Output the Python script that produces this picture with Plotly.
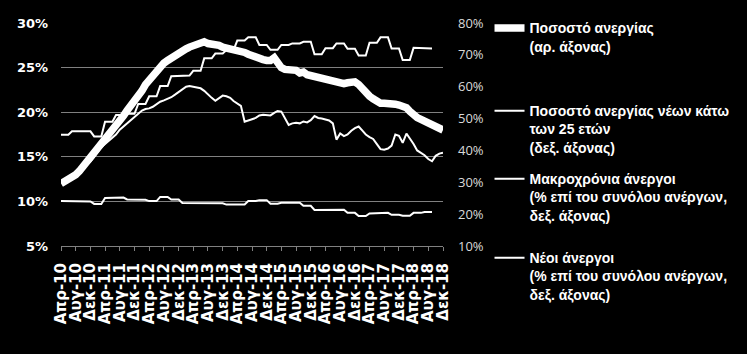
import numpy as np
import pandas as pd
import plotly.graph_objects as go

# Monthly dates Apr-2010 .. Dec-2018
months = pd.date_range("2010-04-01", "2018-12-01", freq="MS")

# Unemployment rate (left axis, %), monthly
unemp = [12.0, 12.2, 12.4, 12.7, 13.0, 13.4, 13.9, 14.4, 14.9, 15.3, 15.8, 16.4,
         16.9, 17.4, 17.8, 18.4, 19.1, 19.6, 20.2, 20.7, 21.1, 21.6, 22.4, 23.1,
         23.6, 24.2, 24.7, 25.1, 25.5, 25.8, 26.1, 26.4, 26.6, 26.9, 27.1, 27.3,
         27.5, 27.6, 27.9, 27.9, 27.7, 27.7, 27.6, 27.5, 27.3, 27.2, 27.2, 27.1,
         27.1, 26.9, 26.7, 26.5, 26.3, 26.2, 26.0, 25.9, 25.8, 25.8, 26.1, 25.5,
         25.0, 24.8, 24.8, 24.6, 24.7, 24.4, 24.5, 24.2, 24.1, 24.0, 23.8, 23.7,
         23.5, 23.5, 23.4, 23.3, 23.2, 23.2, 23.3, 23.4, 23.4, 23.1, 22.6, 22.2,
         21.8, 21.5, 21.2, 21.0, 21.0, 21.0, 21.1, 20.9, 20.8, 20.7, 20.5, 20.1,
         19.6, 19.4, 19.2, 19.0, 18.9, 18.7, 18.6, 18.3, 18.0]

# Youth (<25) unemployment rate (right axis, %), monthly
youth = [30.0, 30.5, 31.0, 31.8, 32.5, 33.5, 34.5, 35.5, 36.5, 38.0, 39.5, 41.0,
         42.0, 43.0, 44.0, 45.0, 46.5, 47.5, 48.5, 49.5, 50.5, 51.5, 52.5, 53.0,
         53.2, 53.7, 54.5, 55.3, 55.7, 56.2, 56.7, 57.5, 58.4, 59.3, 60.0, 60.2,
         60.0, 59.9, 59.5, 58.7, 57.5, 56.5, 55.6, 56.3, 57.2, 57.0, 56.5, 55.5,
         54.6, 54.0, 49.0, 49.5, 49.8, 50.2, 51.0, 51.2, 51.1, 51.0, 51.8, 52.4,
         52.2, 50.0, 48.0, 48.5, 48.7, 48.5, 49.1, 48.8, 49.5, 50.8, 50.2, 50.0,
         49.8, 49.4, 48.5, 43.4, 45.3, 44.5, 45.0, 46.2, 47.0, 47.5, 46.2, 45.0,
         44.2, 43.6, 42.0, 40.4, 40.2, 40.6, 41.5, 45.0, 44.6, 42.4, 45.3, 43.8,
         42.0, 40.0, 39.2, 38.5, 37.3, 36.6, 38.3, 39.0, 39.3]

# Quarterly series Q2-2010 .. Q3-2018 (right axis, % of total unemployed)
long_term_q = [44.9, 46.0, 46.0, 44.4, 49.0, 51.1, 51.5, 54.6, 57.0, 60.2, 63.3, 63.5,
               65.0, 68.9, 70.4, 71.5, 74.5, 75.5, 73.1, 71.6, 73.1, 73.6, 74.1, 70.2,
               72.1, 73.6, 71.9, 69.8, 73.8, 75.5, 72.0, 68.4, 72.2, 72.0]
new_unemp_q = [24.1, 24.1, 24.0, 23.2, 25.1, 25.2, 24.6, 24.5, 24.1, 25.4, 24.6, 23.5,
               23.5, 23.5, 23.4, 23.0, 23.0, 24.1, 24.4, 23.3, 23.6, 23.6, 22.6, 21.3,
               21.3, 21.4, 20.4, 19.4, 20.2, 20.4, 19.8, 19.5, 20.4, 20.7]

# each quarterly value shown for the three months of its quarter
q_months = months[:3 * len(long_term_q)]
long_term = np.repeat(long_term_q, 3)
new_unemp = np.repeat(new_unemp_q, 3)

# tick labels every 4 months
tick_dates = months[::4]
gr_month = {4: "Απρ", 8: "Αυγ", 12: "Δεκ"}
tick_text = [f"{gr_month[d.month]}-{d.strftime('%y')}" for d in tick_dates]

names = ["<b>Ποσοστό ανεργίας<br>(αρ. άξονας)</b>",
         "<b>Ποσοστό ανεργίας νέων κάτω<br>των 25 ετών<br>(δεξ. άξονας)</b>",
         "<b>Μακροχρόνια άνεργοι<br>(% επί του συνόλου ανέργων,<br>δεξ. άξονας)</b>",
         "<b>Νέοι άνεργοι<br>(% επί του συνόλου ανέργων,<br>δεξ. άξονας)</b>"]

fig = go.Figure()
fig.add_trace(go.Scatter(x=months, y=youth, name=names[1], yaxis="y2", mode="lines",
                         line=dict(color="white", width=2), legend="legend2"))
fig.add_trace(go.Scatter(x=q_months, y=long_term, name=names[2], yaxis="y2", mode="lines",
                         line=dict(color="white", width=2), legend="legend3"))
fig.add_trace(go.Scatter(x=q_months, y=new_unemp, name=names[3], yaxis="y2", mode="lines",
                         line=dict(color="white", width=2), legend="legend4"))
fig.add_trace(go.Scatter(x=months, y=unemp, name=names[0], mode="lines",
                         line=dict(color="white", width=7.5), legend="legend"))

W, H = 747, 354
L, R, T, B = 61, 447, 17, 246
leg_font = dict(family="Liberation Sans, Arial, sans-serif", size=14, color="white",
                weight="bold")

def px_x(p):
    return (p - L) / (R - L)

def px_y(p):
    return (B - p) / (B - T)

def leg(top):
    return dict(x=px_x(494), y=px_y(top), xanchor="left", yanchor="top",
                font=leg_font, bgcolor="rgba(0,0,0,0)", valign="top",
                itemclick=False, itemdoubleclick=False)

fig.update_layout(
    width=W, height=H,
    margin=dict(l=L, r=W - R, t=T, b=H - B, pad=0),
    paper_bgcolor="black", plot_bgcolor="black",
    showlegend=True,
    legend=leg(6), legend2=leg(91), legend3=leg(161), legend4=leg(242),
    xaxis=dict(type="date", range=[months[0], months[-1]],
               tickvals=tick_dates, ticktext=tick_text, tickangle=-90,
               ticks="outside", ticklen=4, tickcolor="#808080",
               showline=True, linecolor="#808080", linewidth=1,
               showgrid=False, zeroline=False, ticklabelstandoff=6,
               tickfont=dict(family="DejaVu Sans", size=15, color="white", weight="bold")),
    yaxis=dict(range=[5, 30], dtick=5, ticksuffix="%", showgrid=True,
               gridcolor="#808080", gridwidth=1, zeroline=False, showline=False,
               ticks="", ticklabelstandoff=12,
               tickfont=dict(family="DejaVu Sans", size=13, color="white", weight="bold")),
    yaxis2=dict(range=[10, 80], dtick=10, ticksuffix="%", overlaying="y", side="right",
                showgrid=False, zeroline=False, showline=False, ticks="",
                ticklabelstandoff=14,
                tickfont=dict(family="Open Sans", size=13, color="#d9d9d9")),
)

fig.write_html("out.html")
